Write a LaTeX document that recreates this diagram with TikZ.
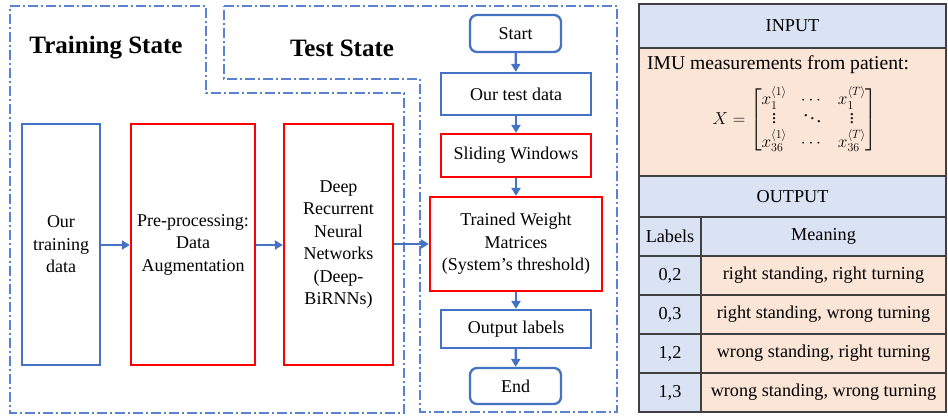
\documentclass[tikz,border=0pt]{standalone}
\usepackage{fontspec}
\usepackage{amsmath}
\setmainfont{Liberation Serif}
\usetikzlibrary{arrows.meta}
\definecolor{bblue}{HTML}{4472C4}
\definecolor{dblue}{HTML}{5B82CF}
\definecolor{hblue}{HTML}{DAE3F3}
\definecolor{horange}{HTML}{FBE5D6}
\definecolor{tline}{HTML}{404040}
\tikzset{
  bluebox/.style={draw=bblue, line width=2.3pt, inner sep=0pt, align=center, font=\fontsize{18}{22.5}\selectfont},
  redbox/.style={draw=red, line width=2.3pt, inner sep=0pt, align=center, font=\fontsize{18}{22.5}\selectfont},
  termbox/.style={bluebox, rounded corners=7pt},
  flow/.style={draw=bblue, line width=2.3pt, -{Triangle[length=8pt,width=9pt]}},
  region/.style={draw=dblue, line width=1.3pt, dash pattern=on 10pt off 3pt on 2pt off 3pt},
  cell/.style={draw=tline, line width=1.2pt, inner sep=0pt, font=\fontsize{18.2}{21}\selectfont},
  hcell/.style={cell, fill=hblue},
  ocell/.style={cell, fill=horange},
  title/.style={font=\fontsize{25}{28}\selectfont\bfseries}
}
\begin{document}
\begin{tikzpicture}[x=1pt,y=-1pt]
\useasboundingbox (0,0) rectangle (948,418);
% regions
\draw[region] (10,6) -- (206,6) -- (206,93) -- (404,93) -- (404,413) -- (10,413) -- cycle;
\draw[region] (224,6) -- (617,6) -- (617,412) -- (420,412) -- (420,79) -- (224,79) -- cycle;
\node[title] (ttrain) at (106,48) {Training State};
\node[title] (ttest) at (342,48) {Test State};
% training boxes
\node[bluebox, minimum width=78pt, minimum height=241pt] (tdata) at (61,244.5) {Our\\training\\data};
\node[redbox, minimum width=124pt, minimum height=241pt] (prep) at (193,244.5) {Pre-processing:\\Data\\Augmentation};
\node[redbox, minimum width=109pt, minimum height=241pt] (drnn) at (338.5,244.5) {Deep\\Recurrent\\Neural\\Networks\\(Deep-\\BiRNNs)};
% test boxes
\node[termbox, minimum width=91pt, minimum height=37pt] (start) at (515.5,33.5) {Start};
\node[bluebox, minimum width=150pt, minimum height=42pt] (testdata) at (516,94) {Our test data};
\node[redbox, minimum width=150pt, minimum height=43pt] (sliding) at (516,155.5) {Sliding Windows};
\node[redbox, minimum width=172pt, minimum height=94pt] (trained) at (516,244) {Trained Weight\\Matrices\\(System’s threshold)};
\node[bluebox, minimum width=150pt, minimum height=38pt] (outlab) at (516,329) {Output labels};
\node[termbox, minimum width=91pt, minimum height=36pt] (end) at (515.5,386) {End};
% arrows
\draw[flow] (tdata.east |- 0,245) -- (prep.west |- 0,245);
\draw[flow] (prep.east |- 0,245) -- (drnn.west |- 0,245);
\draw[flow] (drnn.east |- 0,244) -- (trained.west);
\draw[flow] (start) -- (testdata);
\draw[flow] (testdata) -- (sliding);
\draw[flow] (sliding) -- (trained);
\draw[flow] (trained) -- (outlab);
\draw[flow] (outlab) -- (end);
% table
\node[hcell, minimum width=307pt, minimum height=44pt] (inhead) at (792.5,26) {INPUT};
\node[ocell, minimum width=307pt, minimum height=128pt] (inbody) at (792.5,112) {};
\node[font=\fontsize{19.6}{22}\selectfont, anchor=west, inner sep=0pt] (imu) at (647,65) {IMU measurements from patient:};
\node[font=\fontsize{18.5}{21}\selectfont, inner sep=0pt] (mat) at (795,120) {$\arraycolsep=7pt X=\begin{bmatrix} x_1^{\langle 1\rangle} & \cdots & x_1^{\langle T\rangle}\\[-3pt] \vdots & \ddots & \vdots\\[-1pt] x_{36}^{\langle 1\rangle} & \cdots & x_{36}^{\langle T\rangle}\end{bmatrix}$};
\node[hcell, minimum width=307pt, minimum height=41pt] (outhead) at (792.5,196.5) {OUTPUT};
\node[hcell, minimum width=62pt, minimum height=39pt] (lh) at (670,236.5) {Labels};
\node[hcell, minimum width=245pt, minimum height=39pt] (mh) at (823.5,236.5) {Meaning};
\node[hcell, minimum width=62pt, minimum height=39pt] (l1) at (670,275.5) {0,2};
\node[ocell, minimum width=245pt, minimum height=39pt] (m1) at (823.5,275.5) {right standing, right turning};
\node[hcell, minimum width=62pt, minimum height=39pt] (l2) at (670,314.5) {0,3};
\node[ocell, minimum width=245pt, minimum height=39pt] (m2) at (823.5,314.5) {right standing, wrong turning};
\node[hcell, minimum width=62pt, minimum height=39pt] (l3) at (670,353.5) {1,2};
\node[ocell, minimum width=245pt, minimum height=39pt] (m3) at (823.5,353.5) {wrong standing, right turning};
\node[hcell, minimum width=62pt, minimum height=39pt] (l4) at (670,392.5) {1,3};
\node[ocell, minimum width=245pt, minimum height=39pt] (m4) at (823.5,392.5) {wrong standing, wrong turning};
\end{tikzpicture}
\end{document}
